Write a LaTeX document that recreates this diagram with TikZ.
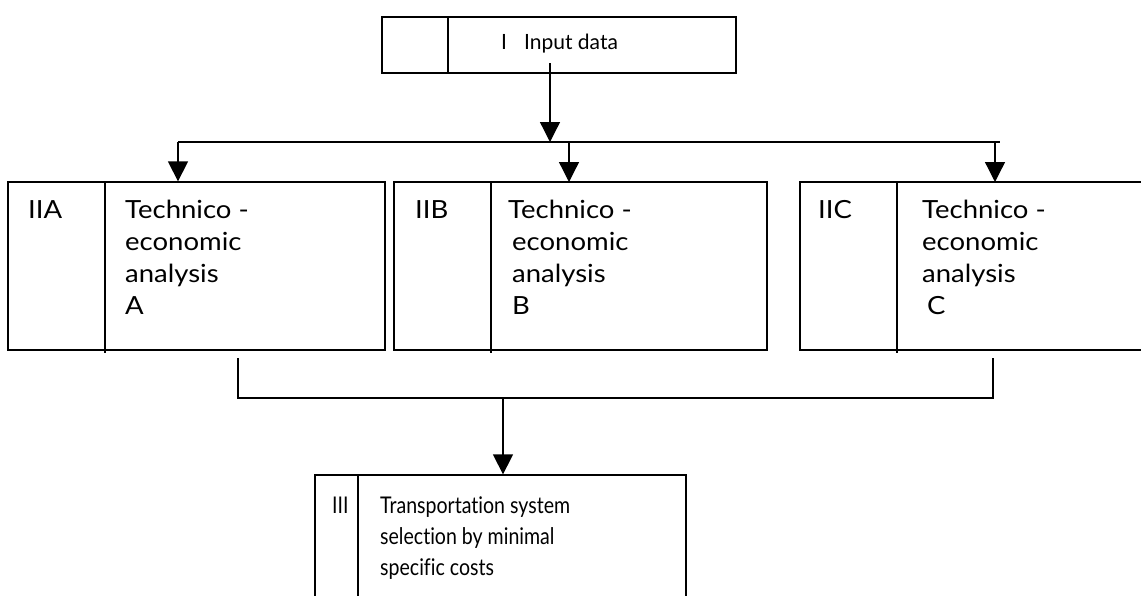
\documentclass[tikz,border=0pt]{standalone}
\usepackage{fontspec}
\setmainfont[Ligatures=NoCommon]{Lato}
\newfontfamily\widefont[Ligatures=NoCommon,FakeStretch=1.1]{Lato}
\newfontfamily\narrowfont[Ligatures=NoCommon,FakeStretch=0.85]{Lato}
\usetikzlibrary{arrows.meta}
\newcommand{\mlines}[1]{\vtop{\baselineskip=32pt\halign{##\hfil\cr #1\crcr}}}
\begin{document}
\begin{tikzpicture}[x=1pt,y=-1pt,
  box/.style={draw,line width=1.3pt,rectangle,inner sep=0pt},
  divider/.style={line width=1.3pt},
  conn/.style={line width=1.3pt},
  arr/.style={line width=1.3pt,-{Triangle[width=20pt,length=20pt]}},
  lbl/.style={inner sep=0pt,anchor=base west,font=\widefont\fontsize{25}{32}\selectfont},
  small/.style={inner sep=0pt,anchor=base west,font=\fontsize{21}{26}\selectfont},
  low/.style={inner sep=0pt,anchor=base west,font=\narrowfont\fontsize{23}{31}\selectfont}]
\path[use as bounding box,clip] (0,0) rectangle (1141,595);
\fill[white] (0,0) rectangle (1141,595);
% top box
\node[box,minimum width=354pt,minimum height=56pt] (I) at (559,45) {};
\draw[divider] (448,17) -- (448,73);
\node[small] (Itxt) at (501,49) {I\hspace{17pt}Input data};
% analysis boxes
\node[box,minimum width=377pt,minimum height=168pt] (A) at (196.5,266) {};
\node[box,minimum width=373pt,minimum height=168pt] (B) at (580.5,266) {};
\node[box,minimum width=380pt,minimum height=168pt] (C) at (990,266) {};
\draw[divider] (105,182) -- (105,353);
\draw[divider] (491,182) -- (491,353);
\draw[divider] (897,182) -- (897,353);
\node[lbl] (Al) at (28,218) {IIA};
\node[lbl] (At) at (125,218) {\mlines{Technico -\cr economic\cr analysis\cr A}};
\node[lbl] (Bl) at (415,218) {IIB};
\node[lbl] (Bt) at (508,218) {\mlines{Technico -\cr \hspace{4pt}economic\cr \hspace{4pt}analysis\cr \hspace{4pt}B}};
\node[lbl] (Cl) at (818,218) {IIC};
\node[lbl] (Ct) at (922,218) {\mlines{Technico -\cr economic\cr analysis\cr \hspace{5pt}C}};
% bottom box
\node[box,minimum width=371pt,minimum height=160pt] (III) at (500.5,555) {};
\draw[divider] (358,475) -- (358,640);
\node[low] (IIIl) at (332,513) {III};
\node[low] (IIIt) at (380,513) {\vtop{\baselineskip=31pt\halign{#\hfil\cr Transportation system\cr selection by minimal\cr specific costs\crcr}}};
% connectors
\coordinate (s1) at (550,63);
\coordinate (h1) at (550,142);
\coordinate (hl) at (178,142);
\coordinate (hr) at (1000,142);
\draw[arr] (s1) -- (h1);
\draw[conn] (hl) -- (hr);
\draw[arr] (hl) -- (hl |- A.north);
\draw[arr] (569,142) -- (569,182);
\draw[arr] (995,142) -- (995,182);
\coordinate (b1) at (238,358);
\coordinate (b2) at (993,358);
\draw[conn] (b1) -- (238,398) -- (993,398) -- (b2);
\draw[arr] (503,398) -- (III.north -| 503,0);
\end{tikzpicture}
\end{document}
